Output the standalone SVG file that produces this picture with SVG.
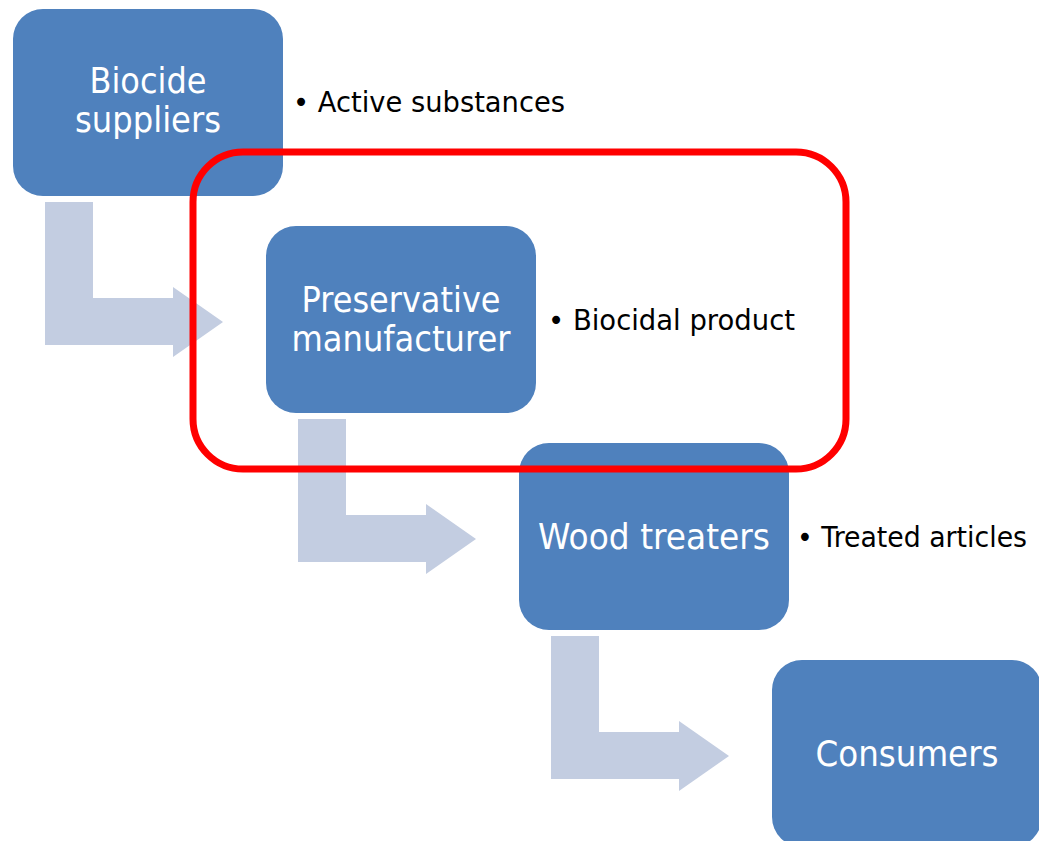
<svg xmlns="http://www.w3.org/2000/svg" width="1039" height="841" viewBox="0 0 1039 841">
  <defs>
    <style>
      .box { fill: #4F81BD; }
      .flow { fill: #C3CDE1; }
      .lbl { font-family: "DejaVu Sans", "Liberation Sans", sans-serif; font-size: 36px; fill: #FFFFFF; text-anchor: middle; }
      .note { font-family: "DejaVu Sans", "Liberation Sans", sans-serif; font-size: 29px; fill: #000000; }
      .scope { fill: none; stroke: #FF0000; stroke-width: 7; }
    </style>
    <!-- bent arrow: down then right, origin at top-left of the vertical stem -->
    <path id="bend" d="M0,0 H48 V96 H128 V85 L178,120 L128,155 V143 H0 Z"/>
  </defs>
  <rect width="1039" height="841" fill="#FFFFFF"/>

  <g id="connectors">
    <use href="#bend" class="flow" x="45" y="202"/>
    <use href="#bend" class="flow" x="298" y="419"/>
    <use href="#bend" class="flow" x="551" y="636"/>
  </g>

  <g id="biocide-suppliers">
    <rect class="box" x="13" y="9" width="270" height="187" rx="30"/>
    <text class="lbl" x="148" y="93" textLength="117" lengthAdjust="spacingAndGlyphs">Biocide</text>
    <text class="lbl" x="148" y="132" textLength="146" lengthAdjust="spacingAndGlyphs">suppliers</text>
  </g>
  <text id="note-active" class="note" x="293" y="112" textLength="272" lengthAdjust="spacingAndGlyphs">• Active substances</text>

  <g id="preservative-manufacturer">
    <rect class="box" x="266" y="226" width="270" height="187" rx="30"/>
    <text class="lbl" x="401" y="312" textLength="199" lengthAdjust="spacingAndGlyphs">Preservative</text>
    <text class="lbl" x="401" y="351" textLength="219" lengthAdjust="spacingAndGlyphs">manufacturer</text>
  </g>
  <text id="note-biocidal" class="note" x="548" y="330" textLength="247" lengthAdjust="spacingAndGlyphs">• Biocidal product</text>

  <g id="wood-treaters">
    <rect class="box" x="519" y="443" width="270" height="187" rx="30"/>
    <text class="lbl" x="654" y="549" textLength="232" lengthAdjust="spacingAndGlyphs">Wood treaters</text>
  </g>
  <text id="note-treated" class="note" x="797" y="547" textLength="230" lengthAdjust="spacingAndGlyphs">• Treated articles</text>

  <g id="consumers">
    <rect class="box" x="772" y="660" width="270" height="187" rx="30"/>
    <text class="lbl" x="907" y="766" textLength="183" lengthAdjust="spacingAndGlyphs">Consumers</text>
  </g>

  <g id="scope-highlight">
    <rect class="scope" x="193" y="152" width="653" height="317" rx="50"/>
  </g>
</svg>
